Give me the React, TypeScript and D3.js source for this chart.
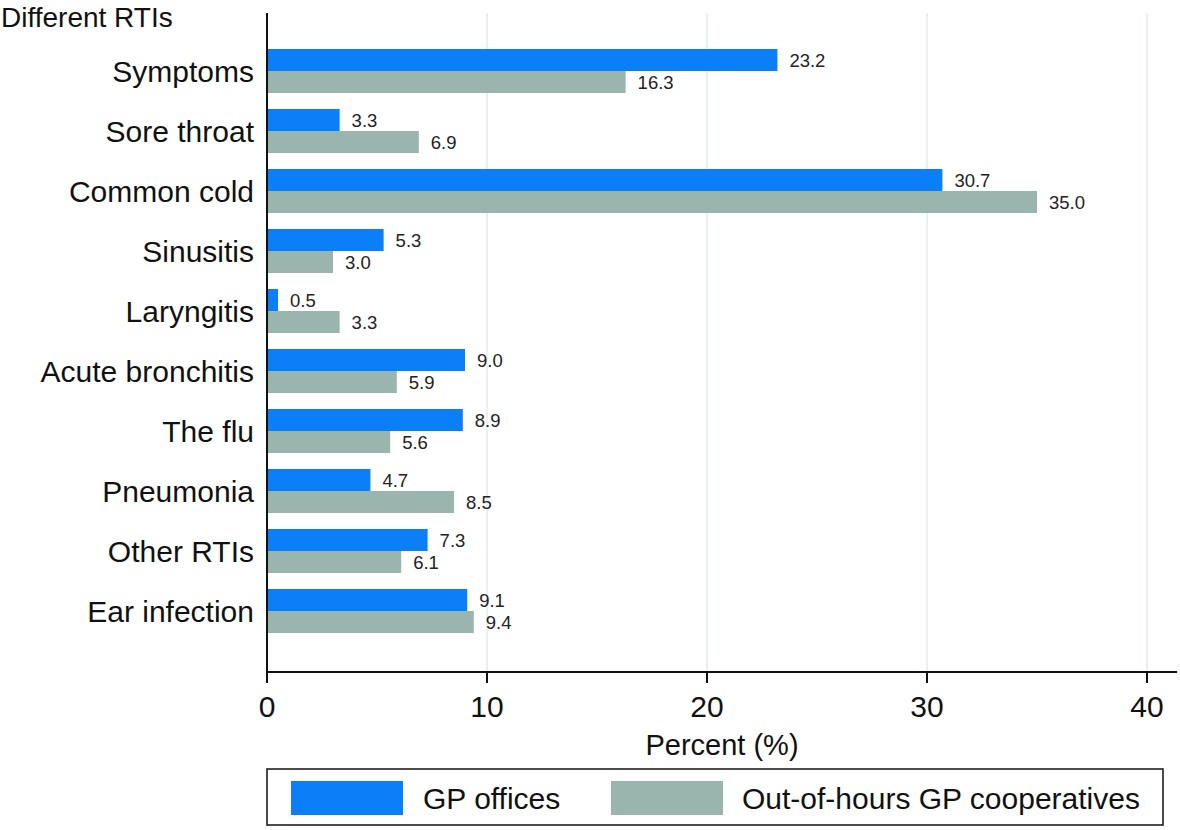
import React from "react";
import * as d3 from "d3";

const categories = ["Symptoms", "Sore throat", "Common cold", "Sinusitis", "Laryngitis", "Acute bronchitis", "The flu", "Pneumonia", "Other RTIs", "Ear infection"];
const gpOffices = [23.2, 3.3, 30.7, 5.3, 0.5, 9.0, 8.9, 4.7, 7.3, 9.1];
const outOfHours = [16.3, 6.9, 35.0, 3.0, 3.3, 5.9, 5.6, 8.5, 6.1, 9.4];
const seriesNames = ["GP offices", "Out-of-hours GP cooperatives"];
const xTicks = [0, 10, 20, 30, 40];

const W = 1180, H = 830;
const FONT = "Arial, 'Liberation Sans', Helvetica, sans-serif";
const BLUE = "#0a7ff7";
const GREY = "#99b5ae";

export default function App() {
  const x = d3.scaleLinear().domain([0, 40]).range([267, 1147]);
  const y = d3.scaleBand<string>().domain(categories).range([41, 641]).paddingInner(0.2667).paddingOuter(0.1333);
  const sub = d3.scaleBand<number>().domain([0, 1]).range([0, y.bandwidth()]);
  const series = [gpOffices, outOfHours];
  const colors = [BLUE, GREY];
  const top = 13, bottom = 672, right = 1177;

  return (
    <svg width={W} height={H} style={{ position: "absolute", left: 0, top: 0, background: "#fff" }} fontFamily={FONT}>
      <rect x={0} y={0} width={W} height={H} fill="#fff" />
      {xTicks.filter(t => t > 0).map(t => (
        <line key={"g" + t} x1={x(t)} x2={x(t)} y1={top} y2={bottom} stroke="#e3ecef" strokeWidth={1.5} />
      ))}
      {categories.map((c, i) => (
        <g key={c}>
          {series.map((s, j) => (
            <g key={j}>
              <rect x={x(0)} y={y(c)! + sub(j)!} width={x(s[i]) - x(0)} height={sub.bandwidth()} fill={colors[j]} />
              <text x={x(s[i]) + 12} y={y(c)! + sub(j)! + sub.bandwidth() / 2} dy="0.36em" fontSize={18.5} fill="#222">
                {s[i].toFixed(1)}
              </text>
            </g>
          ))}
          <text x={254} y={y(c)! + y.bandwidth() / 2} dy="0.36em" textAnchor="end" fontSize={30} fill="#111">{c}</text>
        </g>
      ))}
      <line x1={x(0)} x2={x(0)} y1={top} y2={bottom} stroke="#111" strokeWidth={2} />
      <line x1={x(0)} x2={right} y1={bottom} y2={bottom} stroke="#111" strokeWidth={2} />
      {xTicks.map(t => (
        <g key={"t" + t}>
          <line x1={x(t)} x2={x(t)} y1={bottom} y2={bottom + 11} stroke="#111" strokeWidth={2} />
          <text x={x(t)} y={717} textAnchor="middle" fontSize={30} fill="#111">{t}</text>
        </g>
      ))}
      <text x={722} y={755} textAnchor="middle" fontSize={29} fill="#111">Percent (%)</text>
      <text x={1} y={27} fontSize={28} fill="#111">Different RTIs</text>
      <rect x={267} y={769} width={896} height={56} fill="#fff" stroke="#111" strokeWidth={1.5} />
      {seriesNames.map((n, j) => (
        <g key={n}>
          <rect x={j === 0 ? 291 : 611} y={781} width={112} height={34} fill={colors[j]} />
          <text x={j === 0 ? 423 : 742} y={809} fontSize={30} fill="#111">{n}</text>
        </g>
      ))}
    </svg>
  );
}
